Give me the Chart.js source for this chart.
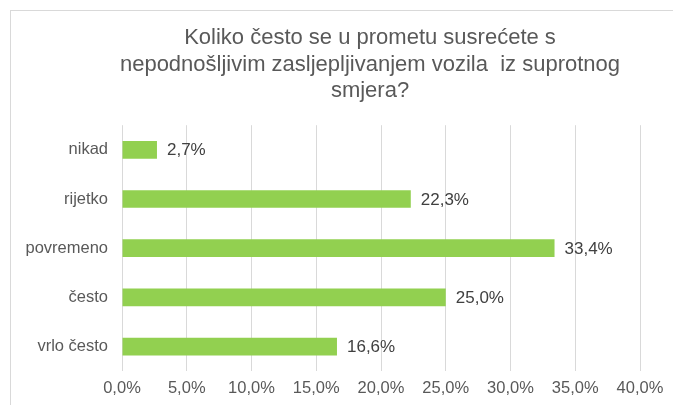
<!DOCTYPE html>
<html>
<head>
<meta charset="utf-8">
<script src="https://cdn.jsdelivr.net/npm/chart.js@4/dist/chart.umd.min.js"></script>
<style>
  html, body { margin: 0; padding: 0; background: #fff; overflow: hidden; }
  #wrap { position: relative; width: 673px; height: 405px; }
  #frame { position: absolute; left: 10px; top: 10px; width: 700px; height: 450px; border: 1px solid #d9d9d9; box-sizing: border-box; pointer-events: none; }
  canvas { position: absolute; left: 0; top: 0; }
</style>
</head>
<body>
<div id="wrap">
  <div id="frame"></div>
  <canvas id="c" width="673" height="405"></canvas>
</div>
<script>
const titleLines = ["Koliko često se u prometu susrećete s", "nepodnošljivim zasljepljivanjem vozila  iz suprotnog", "smjera?"];
const categories = ["nikad", "rijetko", "povremeno", "često", "vrlo često"];
const values = [2.7, 22.3, 33.4, 25.0, 16.6];
const xTicks = [0, 5, 10, 15, 20, 25, 30, 35, 40];

const FONT = "'Liberation Sans', Arial, sans-serif";
const fmt = v => v.toFixed(1).replace('.', ',') + '%';

const dataLabels = {
  id: 'dataLabels',
  afterDatasetsDraw(chart) {
    const ctx = chart.ctx;
    const meta = chart.getDatasetMeta(0);
    ctx.save();
    ctx.font = "17px " + FONT;
    ctx.fillStyle = '#404040';
    ctx.textAlign = 'left';
    ctx.textBaseline = 'middle';
    meta.data.forEach((bar, i) => {
      ctx.fillText(fmt(values[i]), bar.x + 10, bar.y + 1);
    });
    ctx.restore();
  }
};

const titleShift = {
  id: 'titleShift',
  afterLayout(chart) {
    const t = chart.titleBlock;
    if (t) { t.left += 45; t.right += 45; }
  }
};

new Chart(document.getElementById('c'), {
  type: 'bar',
  data: {
    labels: categories,
    datasets: [{
      data: values,
      backgroundColor: '#92D050',
      borderWidth: 0,
      categoryPercentage: 1.0,
      barPercentage: 0.36
    }]
  },
  options: {
    indexAxis: 'y',
    responsive: false,
    animation: false,
    layout: { padding: { left: 10, right: 33, top: 12, bottom: 0 } },
    plugins: {
      legend: { display: false },
      tooltip: { enabled: false },
      title: {
        display: true,
        text: titleLines,
        color: '#595959',
        font: { family: FONT, size: 22, weight: 'normal', lineHeight: 1.2 },
        padding: { top: 13, bottom: 21 }
      }
    },
    scales: {
      x: {
        min: 0,
        max: 40,
        afterBuildTicks(scale) { scale.ticks = xTicks.map(v => ({ value: v })); },
        ticks: {
          color: '#595959',
          font: { family: FONT, size: 16.5 },
          padding: 7,
          maxRotation: 0,
          callback: v => fmt(v)
        },
        grid: { color: '#d9d9d9', lineWidth: 1, drawTicks: false },
        border: { display: false }
      },
      y: {
        afterFit(scale) { scale.width = 112; },
        ticks: {
          color: '#595959',
          font: { family: FONT, size: 16.5 },
          padding: 14
        },
        grid: { display: false, drawTicks: false },
        border: { display: false }
      }
    }
  },
  plugins: [dataLabels, titleShift]
});
</script>
</body>
</html>
